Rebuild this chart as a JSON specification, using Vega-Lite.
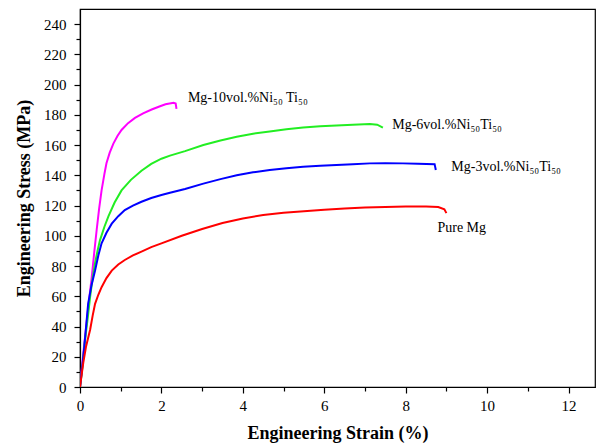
{
  "$schema": "https://vega.github.io/schema/vega-lite/v6.json",
  "width": 515,
  "height": 378,
  "autosize": {"type": "none"},
  "padding": {"left": 80, "top": 9, "right": 16, "bottom": 58},
  "background": "white",
  "config": {"view": {"stroke": "black", "strokeWidth": 1.2}, "font": "Liberation Serif"},
  "datasets": {
    "curves": [
      {"series": "Mg-10", "strain": 0, "stress": 0},
      {"series": "Mg-10", "strain": 0.04, "stress": 11},
      {"series": "Mg-10", "strain": 0.1, "stress": 27},
      {"series": "Mg-10", "strain": 0.16, "stress": 42},
      {"series": "Mg-10", "strain": 0.22, "stress": 57},
      {"series": "Mg-10", "strain": 0.29, "stress": 73},
      {"series": "Mg-10", "strain": 0.35, "stress": 89},
      {"series": "Mg-10", "strain": 0.41, "stress": 104},
      {"series": "Mg-10", "strain": 0.47, "stress": 118},
      {"series": "Mg-10", "strain": 0.53, "stress": 130},
      {"series": "Mg-10", "strain": 0.6, "stress": 141},
      {"series": "Mg-10", "strain": 0.65, "stress": 148},
      {"series": "Mg-10", "strain": 0.73, "stress": 155},
      {"series": "Mg-10", "strain": 0.82, "stress": 161},
      {"series": "Mg-10", "strain": 0.92, "stress": 166},
      {"series": "Mg-10", "strain": 1.02, "stress": 170},
      {"series": "Mg-10", "strain": 1.18, "stress": 174.5},
      {"series": "Mg-10", "strain": 1.35, "stress": 178},
      {"series": "Mg-10", "strain": 1.55, "stress": 181},
      {"series": "Mg-10", "strain": 1.76, "stress": 183.5},
      {"series": "Mg-10", "strain": 1.95, "stress": 185.5},
      {"series": "Mg-10", "strain": 2.1, "stress": 187},
      {"series": "Mg-10", "strain": 2.2, "stress": 187.5},
      {"series": "Mg-10", "strain": 2.3, "stress": 188},
      {"series": "Mg-10", "strain": 2.35, "stress": 187.5},
      {"series": "Mg-10", "strain": 2.37, "stress": 184},
      {"series": "Mg-6", "strain": 0, "stress": 0},
      {"series": "Mg-6", "strain": 0.05, "stress": 11},
      {"series": "Mg-6", "strain": 0.12, "stress": 30},
      {"series": "Mg-6", "strain": 0.2, "stress": 48},
      {"series": "Mg-6", "strain": 0.25, "stress": 60},
      {"series": "Mg-6", "strain": 0.31, "stress": 72},
      {"series": "Mg-6", "strain": 0.37, "stress": 82},
      {"series": "Mg-6", "strain": 0.43, "stress": 90},
      {"series": "Mg-6", "strain": 0.49, "stress": 97},
      {"series": "Mg-6", "strain": 0.6, "stress": 106},
      {"series": "Mg-6", "strain": 0.7, "stress": 113},
      {"series": "Mg-6", "strain": 0.85, "stress": 122},
      {"series": "Mg-6", "strain": 1.02, "stress": 130},
      {"series": "Mg-6", "strain": 1.25, "stress": 137},
      {"series": "Mg-6", "strain": 1.51, "stress": 143},
      {"series": "Mg-6", "strain": 1.75, "stress": 147.5},
      {"series": "Mg-6", "strain": 2.0, "stress": 151},
      {"series": "Mg-6", "strain": 2.21, "stress": 153},
      {"series": "Mg-6", "strain": 2.58, "stress": 156},
      {"series": "Mg-6", "strain": 3.03, "stress": 160},
      {"series": "Mg-6", "strain": 3.45, "stress": 163},
      {"series": "Mg-6", "strain": 3.85, "stress": 165.5},
      {"series": "Mg-6", "strain": 4.25, "stress": 167.5},
      {"series": "Mg-6", "strain": 4.66, "stress": 169},
      {"series": "Mg-6", "strain": 5.07, "stress": 170.5},
      {"series": "Mg-6", "strain": 5.48, "stress": 171.7},
      {"series": "Mg-6", "strain": 5.9, "stress": 172.5},
      {"series": "Mg-6", "strain": 6.3, "stress": 173},
      {"series": "Mg-6", "strain": 6.7, "stress": 173.5},
      {"series": "Mg-6", "strain": 7.12, "stress": 174},
      {"series": "Mg-6", "strain": 7.3, "stress": 173.5},
      {"series": "Mg-6", "strain": 7.44, "stress": 171.5},
      {"series": "Mg-3", "strain": 0, "stress": 0},
      {"series": "Mg-3", "strain": 0.05, "stress": 12},
      {"series": "Mg-3", "strain": 0.1, "stress": 25},
      {"series": "Mg-3", "strain": 0.15, "stress": 40},
      {"series": "Mg-3", "strain": 0.2, "stress": 55},
      {"series": "Mg-3", "strain": 0.28, "stress": 67},
      {"series": "Mg-3", "strain": 0.37, "stress": 77},
      {"series": "Mg-3", "strain": 0.45, "stress": 87},
      {"series": "Mg-3", "strain": 0.53, "stress": 95},
      {"series": "Mg-3", "strain": 0.65, "stress": 102},
      {"series": "Mg-3", "strain": 0.78, "stress": 108},
      {"series": "Mg-3", "strain": 0.94, "stress": 113},
      {"series": "Mg-3", "strain": 1.1, "stress": 117},
      {"series": "Mg-3", "strain": 1.3, "stress": 120},
      {"series": "Mg-3", "strain": 1.51, "stress": 122.5},
      {"series": "Mg-3", "strain": 1.75, "stress": 125},
      {"series": "Mg-3", "strain": 2.0, "stress": 127},
      {"series": "Mg-3", "strain": 2.21, "stress": 128.5},
      {"series": "Mg-3", "strain": 2.58, "stress": 131},
      {"series": "Mg-3", "strain": 3.03, "stress": 134.5},
      {"series": "Mg-3", "strain": 3.45, "stress": 137.5},
      {"series": "Mg-3", "strain": 3.85, "stress": 140},
      {"series": "Mg-3", "strain": 4.25, "stress": 142},
      {"series": "Mg-3", "strain": 4.66, "stress": 143.5},
      {"series": "Mg-3", "strain": 5.07, "stress": 144.7},
      {"series": "Mg-3", "strain": 5.48, "stress": 145.7},
      {"series": "Mg-3", "strain": 5.9, "stress": 146.3},
      {"series": "Mg-3", "strain": 6.3, "stress": 146.8},
      {"series": "Mg-3", "strain": 6.7, "stress": 147.4},
      {"series": "Mg-3", "strain": 7.12, "stress": 147.9},
      {"series": "Mg-3", "strain": 7.5, "stress": 148},
      {"series": "Mg-3", "strain": 7.93, "stress": 147.9},
      {"series": "Mg-3", "strain": 8.3, "stress": 147.7},
      {"series": "Mg-3", "strain": 8.71, "stress": 147.4},
      {"series": "Mg-3", "strain": 8.74, "stress": 143.5},
      {"series": "Pure", "strain": 0, "stress": 0},
      {"series": "Pure", "strain": 0.04, "stress": 8},
      {"series": "Pure", "strain": 0.08, "stress": 16},
      {"series": "Pure", "strain": 0.15, "stress": 27},
      {"series": "Pure", "strain": 0.25, "stress": 38},
      {"series": "Pure", "strain": 0.31, "stress": 47},
      {"series": "Pure", "strain": 0.37, "stress": 55},
      {"series": "Pure", "strain": 0.45, "stress": 61},
      {"series": "Pure", "strain": 0.53, "stress": 66},
      {"series": "Pure", "strain": 0.65, "stress": 72},
      {"series": "Pure", "strain": 0.78, "stress": 77},
      {"series": "Pure", "strain": 0.94, "stress": 81},
      {"series": "Pure", "strain": 1.1, "stress": 84},
      {"series": "Pure", "strain": 1.3, "stress": 87},
      {"series": "Pure", "strain": 1.51, "stress": 89.5},
      {"series": "Pure", "strain": 1.75, "stress": 92.5},
      {"series": "Pure", "strain": 2.0, "stress": 95},
      {"series": "Pure", "strain": 2.5, "stress": 100},
      {"series": "Pure", "strain": 3.0, "stress": 104.5},
      {"series": "Pure", "strain": 3.5, "stress": 108.5},
      {"series": "Pure", "strain": 4.0, "stress": 111.5},
      {"series": "Pure", "strain": 4.5, "stress": 113.8},
      {"series": "Pure", "strain": 5.0, "stress": 115.2},
      {"series": "Pure", "strain": 5.5, "stress": 116.2},
      {"series": "Pure", "strain": 6.0, "stress": 117.2},
      {"series": "Pure", "strain": 6.5, "stress": 118},
      {"series": "Pure", "strain": 7.0, "stress": 118.7},
      {"series": "Pure", "strain": 7.5, "stress": 119.1},
      {"series": "Pure", "strain": 8.0, "stress": 119.3},
      {"series": "Pure", "strain": 8.5, "stress": 119.3},
      {"series": "Pure", "strain": 8.8, "stress": 119},
      {"series": "Pure", "strain": 8.95, "stress": 117.5},
      {"series": "Pure", "strain": 9.0, "stress": 115}
    ],
    "labels": [
      {"label": "Mg-10vol.%Ni₅₀ Ti₅₀", "strain": 2.65, "stress": 191},
      {"label": "Mg-6vol.%Ni₅₀Ti₅₀", "strain": 7.67, "stress": 173},
      {"label": "Mg-3vol.%Ni₅₀Ti₅₀", "strain": 9.12, "stress": 145.5},
      {"label": "Pure Mg", "strain": 8.78, "stress": 105}
    ]
  },
  "resolve": {"axis": {"x": "independent", "y": "independent"}},
  "layer": [
    {
      "data": {"name": "curves"},
      "mark": {"type": "line", "strokeWidth": 2, "clip": true},
      "encoding": {
        "x": {
          "field": "strain", "type": "quantitative",
          "scale": {"domain": [0, 12.65], "nice": false, "zero": false},
          "axis": {
            "orient": "bottom",
            "values": [0, 2, 4, 6, 8, 10, 12],
            "labelOverlap": false,
            "tickSize": 6,
            "grid": false, "domainColor": "black", "tickColor": "black", "domainWidth": 1.2, "tickWidth": 1.2,
            "labelFont": "Liberation Serif", "labelFontSize": 15, "labelColor": "black", "labelPadding": 5, "labelFlush": false,
            "title": "Engineering Strain (%)", "titleFont": "Liberation Serif", "titleFontSize": 18, "titleFontWeight": "bold", "titleColor": "black", "titlePadding": 11
          }
        },
        "y": {
          "field": "stress", "type": "quantitative",
          "scale": {"domain": [0, 250], "nice": false},
          "axis": {
            "orient": "left",
            "values": [0, 20, 40, 60, 80, 100, 120, 140, 160, 180, 200, 220, 240],
            "labelOverlap": false,
            "tickSize": 6,
            "grid": false, "domainColor": "black", "tickColor": "black", "domainWidth": 1.2, "tickWidth": 1.2,
            "labelFont": "Liberation Serif", "labelFontSize": 15, "labelColor": "black", "labelPadding": 8, "labelFlush": false,
            "title": "Engineering Stress (MPa)", "titleFont": "Liberation Serif", "titleFontSize": 18, "titleFontWeight": "bold", "titleColor": "black", "titlePadding": 10
          }
        },
        "color": {
          "field": "series", "type": "nominal",
          "scale": {"domain": ["Mg-10", "Mg-6", "Mg-3", "Pure"], "range": ["#ff00ff", "#22ee22", "#0000ff", "#ff0000"]},
          "legend": null
        }
      }
    },
    {
      "data": {"name": "labels"},
      "mark": {"type": "text", "align": "left", "baseline": "middle", "font": "Liberation Serif", "fontSize": 14, "color": "black"},
      "encoding": {
        "x": {
          "field": "strain", "type": "quantitative",
          "axis": {
            "orient": "bottom",
            "values": [1, 3, 5, 7, 9, 11],
            "labels": false, "domain": false, "grid": false, "title": null,
            "tickSize": 4, "tickColor": "black", "tickWidth": 1.2
          }
        },
        "y": {
          "field": "stress", "type": "quantitative",
          "axis": {
            "orient": "left",
            "values": [10, 30, 50, 70, 90, 110, 130, 150, 170, 190, 210, 230],
            "labels": false, "domain": false, "grid": false, "title": null,
            "tickSize": 4, "tickColor": "black", "tickWidth": 1.2
          }
        },
        "text": {"field": "label"}
      }
    }
  ]
}
